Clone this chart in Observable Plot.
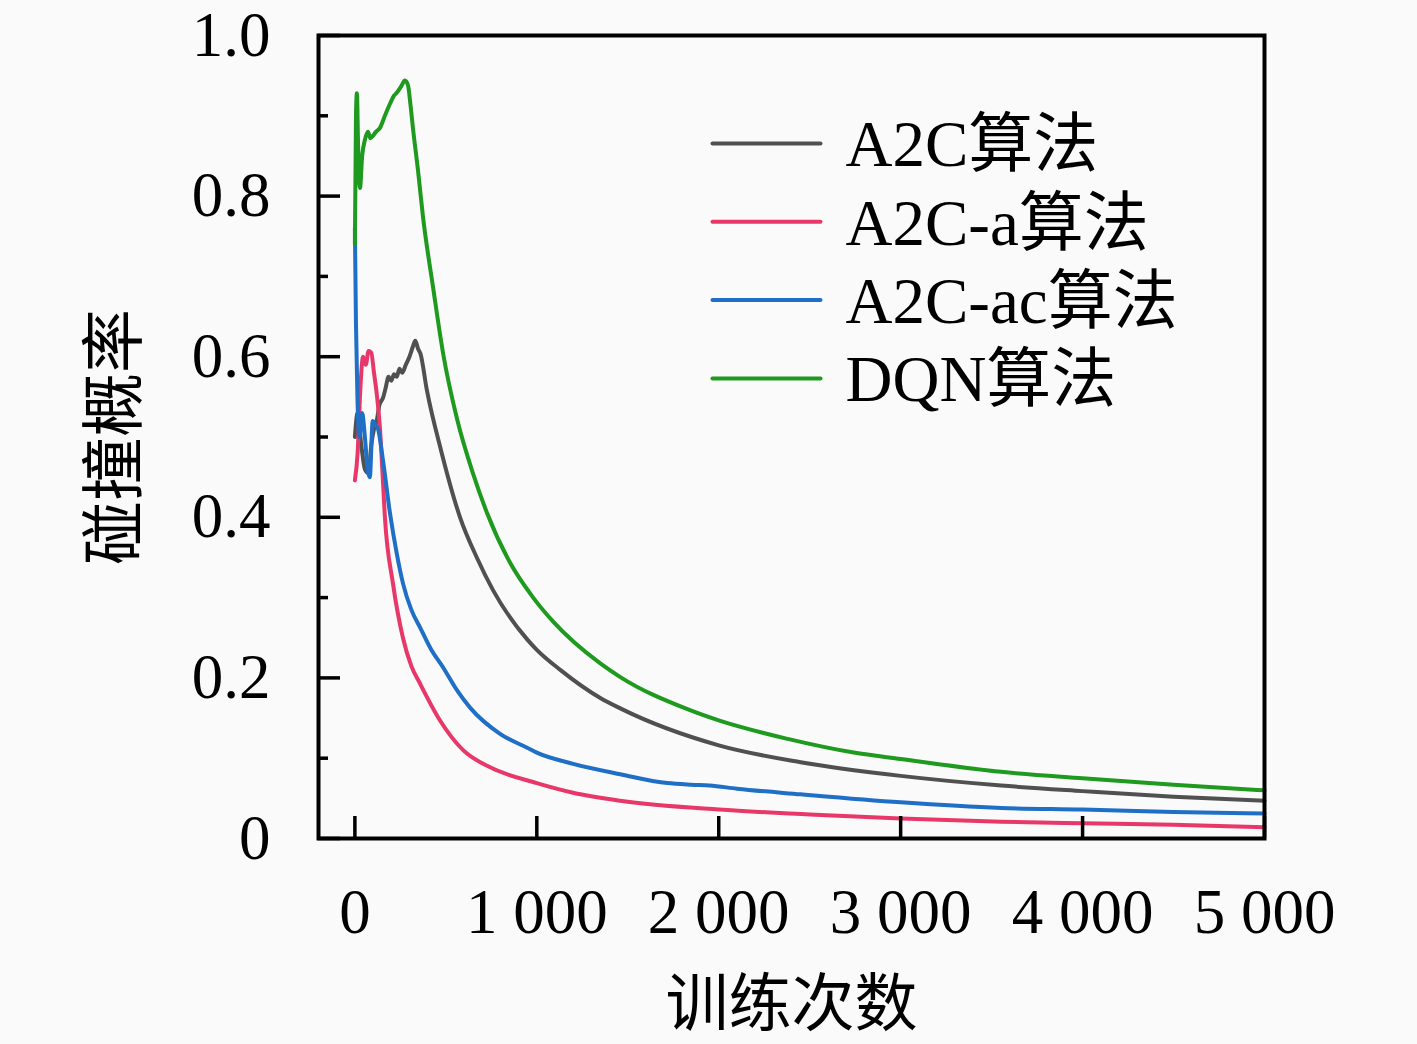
<!DOCTYPE html>
<html>
<head>
<meta charset="utf-8">
<script src="https://cdn.jsdelivr.net/npm/d3@7"></script>
<script src="https://cdn.jsdelivr.net/npm/@observablehq/plot@0.6"></script>
<style>
  html, body { margin: 0; padding: 0; background: #fafafa; }
</style>
</head>
<body>
<div id="chart"></div>
<script>
// ---- data ----
const seriesNames = ["A2C算法", "A2C-a算法", "A2C-ac算法", "DQN算法"];
const seriesColors = ["#505050", "#e8386a", "#1f6fc6", "#1e9a1e"];

const a2cX = [0,15,35,55,75,90,105,120,135,155,170,185,200,215,230,245,260,280,300,318,332,347,360,396,474,578,672,760,947,1000,1129,1349,1459,2000,2450,3000,3552,4000,4500,5000];
const a2cY = [0.50,0.53,0.49,0.46,0.455,0.49,0.51,0.52,0.54,0.549,0.562,0.575,0.57,0.578,0.575,0.585,0.58,0.59,0.60,0.612,0.62,0.61,0.604,0.558,0.483,0.40,0.349,0.309,0.248,0.235,0.21,0.175,0.162,0.116,0.095,0.078,0.066,0.059,0.052,0.047];

const a2caX = [0,15,30,45,60,75,90,105,122,138,149,165,209,264,310,358,468,595,750,1000,1200,1459,2000,2500,3000,3552,4000,4500,5000];
const a2caY = [0.446,0.48,0.56,0.60,0.59,0.607,0.605,0.58,0.55,0.51,0.467,0.40,0.318,0.25,0.215,0.193,0.147,0.11,0.088,0.069,0.057,0.047,0.036,0.030,0.025,0.021,0.019,0.017,0.014];

const a2cacX = [0,6,14,25,40,55,70,82,98,112,127,155,193,230,264,310,358,420,485,560,633,800,947,1000,1200,1459,1718,1850,1950,2100,2450,3000,3552,4000,4500,5000];
const a2cacY = [0.76,0.64,0.55,0.50,0.53,0.50,0.46,0.45,0.52,0.515,0.51,0.47,0.405,0.355,0.318,0.285,0.263,0.235,0.213,0.185,0.163,0.13,0.113,0.107,0.093,0.08,0.069,0.067,0.066,0.062,0.055,0.045,0.038,0.036,0.033,0.031];

const dqnX = [0,6,11,18,28,40,55,72,85,99,115,138,165,193,215,231,255,275,292,305,319,347,374,430,485,562,650,727,854,980,1090,1349,1459,1828,2000,2379,2742,3000,3552,4000,4500,5000];
const dqnY = [0.74,0.90,0.928,0.86,0.81,0.85,0.87,0.88,0.872,0.875,0.88,0.885,0.90,0.915,0.925,0.929,0.937,0.944,0.938,0.915,0.885,0.832,0.775,0.686,0.604,0.522,0.454,0.405,0.343,0.30,0.27,0.218,0.201,0.161,0.147,0.124,0.107,0.099,0.083,0.075,0.067,0.060];

const xTicks = [0, 1000, 2000, 3000, 4000, 5000];
const yTicks = [0, 0.2, 0.4, 0.6, 0.8, 1.0];
const yMinorTicks = [0.1, 0.3, 0.5, 0.7, 0.9];
const xTitle = "训练次数";
const yTitle = "碰撞概率";

// ---- build table ----
const seriesX = [a2cX, a2caX, a2cacX, dqnX];
const seriesY = [a2cY, a2caY, a2cacY, dqnY];
const rows = [];
seriesNames.forEach((name, i) => {
  seriesX[i].forEach((x, j) => rows.push({series: name, x, y: seriesY[i][j]}));
});

const serif = "'Liberation Serif', 'DejaVu Serif', serif";
const cjk = "'Noto Sans CJK SC', sans-serif";
const mixed = "'Liberation Serif', 'Noto Sans CJK SC', serif";

const lineShape = {draw(context, l) { context.moveTo(0, 0); context.lineTo(0, -l); }};

const legendMarks = [];
seriesNames.forEach((name, i) => {
  legendMarks.push(Plot.vector([name], {
    frameAnchor: "top-left", dx: 394, dy: 108 + i * 78.3,
    length: 108, rotate: 90, anchor: "start", shape: lineShape,
    stroke: seriesColors[i], strokeWidth: 4
  }));
  legendMarks.push(Plot.text([name], {
    text: d => d, frameAnchor: "top-left", dx: 527, dy: 110 + i * 78.3,
    textAnchor: "start", lineAnchor: "middle", fontSize: 65, fontFamily: mixed, fill: "black"
  }));
});

const chart = Plot.plot({
  width: 1417,
  height: 1044,
  marginLeft: 318,
  marginRight: 153,
  marginTop: 35,
  marginBottom: 206,
  style: {background: "#fafafa", fontFamily: serif, color: "black", overflow: "visible"},
  x: {domain: [-200, 5000], label: null},
  y: {domain: [0, 1], label: null},
  color: {domain: seriesNames, range: seriesColors},
  marks: [
    Plot.line(rows, {x: "x", y: "y", z: "series", stroke: "series", strokeWidth: 4, curve: "monotone-x"}),
    Plot.frame({stroke: "black", strokeWidth: 4}),
    // inward tick marks
    Plot.axisY({ticks: yTicks, tickSize: -22, tickFormat: () => "", strokeWidth: 3.5, label: null}),
    Plot.axisY({ticks: yMinorTicks, tickSize: -10, tickFormat: () => "", strokeWidth: 3.5, label: null}),
    Plot.axisX({ticks: xTicks, tickSize: -22, tickFormat: () => "", strokeWidth: 3.5, label: null}),
    // tick labels
    Plot.axisY({ticks: yTicks, tickSize: 0, tickPadding: 48, fontSize: 63, fontFamily: serif, label: null,
      tickFormat: d => d === 0 ? "0" : d.toFixed(1)}),
    Plot.axisX({ticks: xTicks, tickSize: 0, tickPadding: 50, fontSize: 63, fontFamily: serif, label: null,
      tickFormat: d => d === 0 ? "0" : d3.format(",")(d).replace(/,/g, " ")}),
    // titles
    Plot.text([yTitle], {text: d => d, frameAnchor: "left", dx: -203, rotate: -90, textAnchor: "middle", lineAnchor: "middle",
      fontSize: 64, fontFamily: cjk, fill: "black"}),
    Plot.text([xTitle], {text: d => d, frameAnchor: "bottom", dy: 166, textAnchor: "middle", lineAnchor: "middle",
      fontSize: 63, fontFamily: cjk, fill: "black"}),
    ...legendMarks
  ]
});

document.getElementById("chart").appendChild(chart);
</script>
</body>
</html>
